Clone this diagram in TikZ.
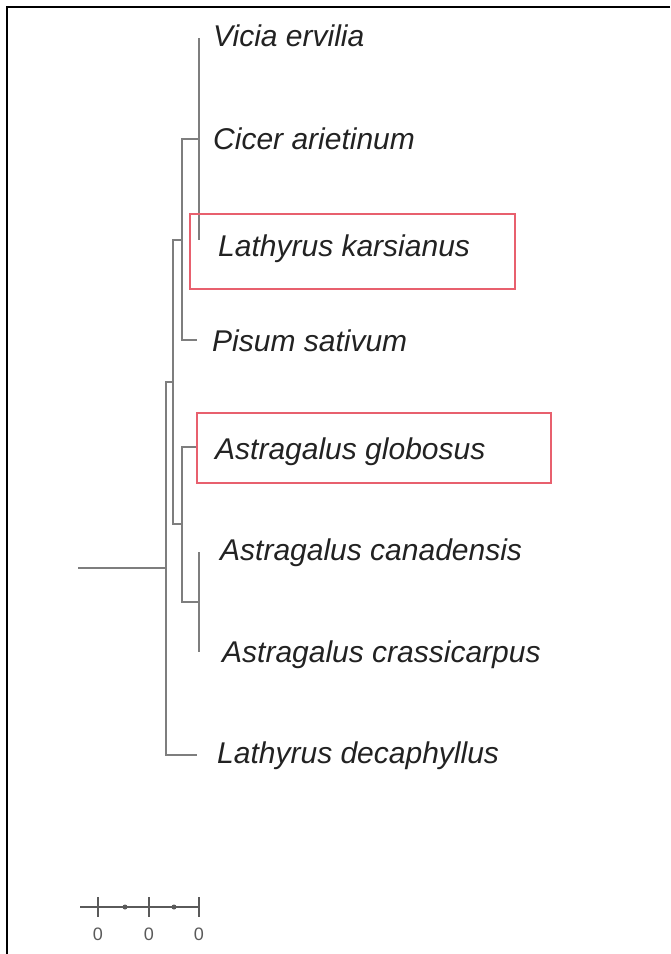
\documentclass[tikz,border=0pt]{standalone}
\usepackage{fontspec}
\setmainfont{Liberation Sans}
\usetikzlibrary{positioning, calc}
\definecolor{Ink}{HTML}{222222}
\definecolor{Branch}{HTML}{7E7E7E}
\definecolor{Scale}{HTML}{5A5A5A}
\definecolor{Mark}{HTML}{E8606E}
\tikzset{
    branch/.style={draw=Branch, line width=2pt},
    taxon/.style={anchor=base west, inner sep=0pt, text=Ink, font=\fontsize{30}{34}\selectfont\itshape},
    hlbox/.style={draw=Mark, line width=1.6pt},
    scalebar/.style={draw=Scale, line width=1.5pt},
    scalelabel/.style={inner sep=0pt, text=Scale, font=\fontsize{18}{20}\selectfont},
}
\begin{document}
\begin{tikzpicture}[x=1pt, y=-1pt]
                \useasboundingbox (0,0) rectangle (670,954);
                % Cornice
                \draw[line width=2.5pt] (670,7) -- (7,7) -- (7,954);

                % Punte delle foglie
                \coordinate (tVic) at (199,38);
                \coordinate (tLk)  at (199,240);
                \coordinate (tPis) at (197,340);
                \coordinate (tGlo) at (197,447);
                \coordinate (tCan) at (199,552);
                \coordinate (tCra) at (199,652);
                \coordinate (tDec) at (197,755);

                % Nodi interni
                \coordinate (nVL)   at (199,139);
                \coordinate (nVLP)  at (182,240);
                \coordinate (nCC)   at (199,602);
                \coordinate (nA)    at (182,524);
                \coordinate (nMid)  at (173,382);
                \coordinate (nRoot) at (166,568);
                \coordinate (base)  at (78,568);

                % Rami
                \draw[branch] (tVic) -- (tLk);
                \draw[branch] (nVL) -- (nVL -| nVLP) |- (tPis);
                \draw[branch] (nVLP) -- (nVLP -| nMid) |- (nA);
                \draw[branch] (tCan) -- (tCra);
                \draw[branch] (tGlo) -- (tGlo -| nA) |- (nCC);
                \draw[branch] (nMid) -- (nMid -| nRoot) |- (tDec);
                \draw[branch] (base) -- (nRoot);

                % Nomi delle specie
                \node[taxon] (vic) at (213,46)  {Vicia ervilia};
                \node[taxon] (cic) at (213,149) {Cicer arietinum};
                \node[taxon] (lka) at (218,256) {Lathyrus karsianus};
                \node[taxon] (pis) at (212,351) {Pisum sativum};
                \node[taxon] (glo) at (215,459) {Astragalus globosus};
                \node[taxon] (can) at (220,560) {Astragalus canadensis};
                \node[taxon] (cra) at (222,662) {Astragalus crassicarpus};
                \node[taxon] (dec) at (217,763) {Lathyrus decaphyllus};

                % Riquadri evidenziati
                \draw[hlbox] (190,214) rectangle (515,289);
                \draw[hlbox] (197,413) rectangle (551,483);

                % Barra di scala
                \draw[scalebar] (80,907) -- (200,907);
                \foreach \sx in {98,149,199} {
                    \draw[scalebar] (\sx,897) -- (\sx,917);
                    \node[scalelabel] at (\sx,934) {0};
                }
                \foreach \sx in {125,174}
                    \fill[Scale] (\sx,907) circle (2.5pt);
            \end{tikzpicture}
\end{document}
